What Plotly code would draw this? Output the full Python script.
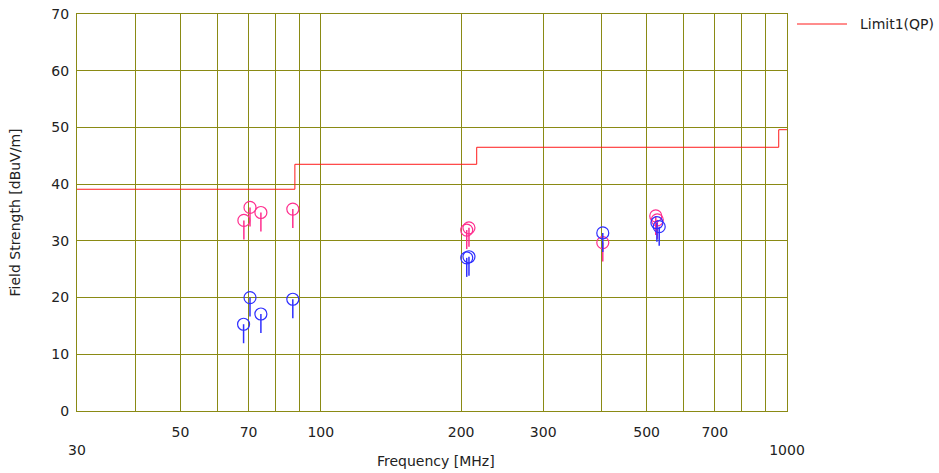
import plotly.graph_objects as go

# Limit line (step)
limit_freq = [30, 88, 216, 960, 1000]
limit_level = [39.1, 43.5, 46.5, 49.6, 49.6]

# Pink (QP) readings
pink_freq = [68.4, 70.5, 74.4, 87.1, 205.6, 207.9, 402.6, 523, 527]
pink_level = [33.6, 35.9, 35.0, 35.6, 31.9, 32.3, 29.7, 34.4, 33.7]

# Blue readings
blue_freq = [68.3, 70.5, 74.4, 87.1, 205.6, 207.9, 402.6, 526, 532]
blue_level = [15.3, 20.0, 17.1, 19.7, 27.0, 27.2, 31.4, 33.2, 32.5]

tick_vals = [30, 40, 50, 60, 70, 80, 90, 100, 200, 300, 400, 500, 600, 700, 800, 900, 1000]
tick_text = ["<br>30", "", "50", "", "70", "", "", "100", "200", "300", "", "500", "", "700", "", "", "<br>1000"]

LIMIT_NAME = "Limit1(QP)"
STEM = 3.35
GRID = "#8a8a14"
LIMIT_COLOR = "#ff1a1a"
FONT = "DejaVu Sans"

fig = go.Figure()

fig.add_trace(go.Scatter(
    x=limit_freq, y=limit_level, mode="lines", line_shape="hv",
    line=dict(color=LIMIT_COLOR, width=1), name=LIMIT_NAME, showlegend=False))

for fx, fy, col in [(pink_freq, pink_level, "#ff2e8e"), (blue_freq, blue_level, "#2f2fff")]:
    fig.add_trace(go.Scatter(
        x=fx, y=fy, mode="markers", showlegend=False,
        marker=dict(symbol="circle-open", size=12, color=col, line=dict(width=1.2, color=col)),
        error_y=dict(type="constant", symmetric=False, value=0, valueminus=STEM,
                     width=0, thickness=1.5, color=col)))

# legend drawn as line + text
fig.add_shape(type="line", xref="paper", yref="paper", x0=1.0141, x1=1.0845,
              y0=0.9748, y1=0.9748, line=dict(color=LIMIT_COLOR, width=1))
fig.add_annotation(text=LIMIT_NAME, xref="paper", yref="paper", x=1.1, y=0.9748,
                   xanchor="left", yanchor="middle", showarrow=False,
                   font=dict(family=FONT, size=14, color="#222222"))
# x-axis title
fig.add_annotation(text="Frequency [MHz]", xref="paper", yref="paper", x=0.506, y=-0.126,
                   xanchor="center", yanchor="middle", showarrow=False,
                   font=dict(family=FONT, size=14, color="#222222"))

fig.update_layout(
    width=939, height=473,
    margin=dict(l=77, r=152, t=14, b=62, autoexpand=False),
    paper_bgcolor="white", plot_bgcolor="white",
    font=dict(family=FONT, size=14, color="#222222"),
    showlegend=False,
    xaxis=dict(type="log", range=[1.47712, 3.0], tickvals=tick_vals, ticktext=tick_text,
               showgrid=True, gridcolor=GRID, gridwidth=1, zeroline=False,
               showline=True, linecolor=GRID, linewidth=1, mirror=True,
               ticks="", ticklabelstandoff=8, automargin=False),
    yaxis=dict(range=[0, 70], dtick=10, showgrid=True, gridcolor=GRID, gridwidth=1.3,
               zeroline=False, showline=True, linecolor=GRID, linewidth=1, mirror=True,
               ticks="", ticklabelstandoff=4, automargin=False, ticklabeloverflow="allow",
               title=dict(text="Field Strength [dBuV/m]", standoff=27, font=dict(size=14))),
)

fig.write_html("out.html", config={"displayModeBar": False},
               post_script="document.body.style.margin='0';")
